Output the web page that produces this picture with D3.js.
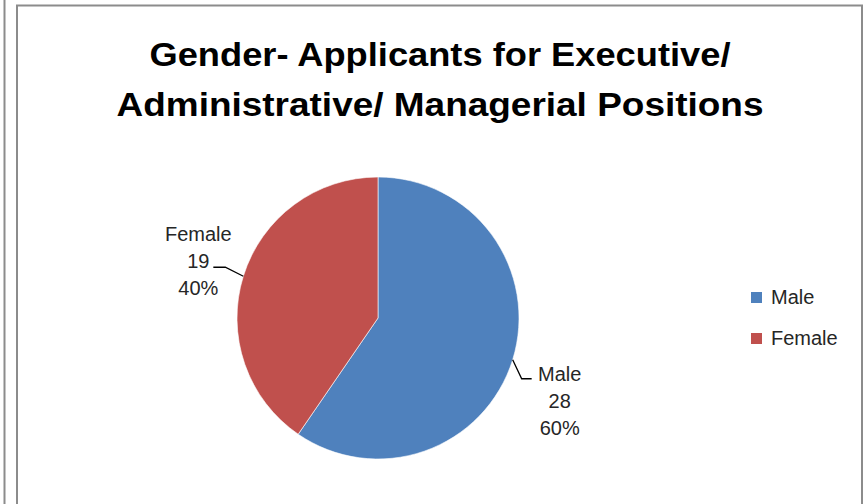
<!DOCTYPE html>
<html>
<head>
<meta charset="utf-8">
<script src="https://cdn.jsdelivr.net/npm/d3@7"></script>
<style>
    body { margin: 0; background: #ffffff; }
    text { font-family: "Liberation Sans", Arial, sans-serif; }
</style>
</head>
<body>
<div id="chart"></div>
<script>
// data
var categories = ["Male", "Female"];
var values = [28, 19];
var colors = ["#4F81BD", "#C0504D"];
var titleLines = ["Gender- Applicants for Executive/", "Administrative/ Managerial Positions"];

var width = 865;
var height = 504;

var svg = d3.select("#chart").append("svg")
    .attr("width", width)
    .attr("height", height)

// frame lines
svg.append("line")
    .attr("x1", 4.5).attr("y1", 0).attr("x2", 4.5).attr("y2", height)
    .attr("stroke", "#8c8c8c").attr("stroke-width", 2)
svg.append("path")
    .attr("d", "M17,504 L17,5.5 L862,5.5 L862,504")
    .attr("fill", "none")
    .attr("stroke", "#8c8c8c")
    .attr("stroke-width", 2)

// title
var titleWidths = [581, 647];
svg.selectAll(".title")
    .data(titleLines)
    .enter()
    .append("text")
    .attr("class", "title")
    .attr("x", 440)
    .attr("y", function (d, i) {
        return 66 + i * 50;
    })
    .attr("text-anchor", "middle")
    .attr("textLength", function (d, i) {
        return titleWidths[i];
    })
    .attr("lengthAdjust", "spacingAndGlyphs")
    .style("font-size", "34px")
    .style("font-weight", "bold")
    .attr("fill", "#000000")
    .text(function (d) { return d; })

// pie
var cx = 378, cy = 318, r = 141;
var total = d3.sum(values);
var data = categories.map(function (c, i) {
    return { name: c, value: values[i], color: colors[i] };
});

var pie = d3.pie()
    .sort(null)
    .value(function (d) { return d.value; });

var arc = d3.arc()
    .innerRadius(0)
    .outerRadius(r);

var g = svg.append("g")
    .attr("transform", "translate(" + cx + "," + cy + ")")

var arcs = pie(data);

g.selectAll("path.slice")
    .data(arcs)
    .enter()
    .append("path")
    .attr("class", "slice")
    .attr("d", arc)
    .attr("fill", function (d) { return d.data.color; })
    .attr("stroke", "#ffffff")
    .attr("stroke-width", 0.6)

// data labels with leader lines
var labelOffsets = {
    Male: { bend: [9, 19], end: [19, 19], text: [47, 21] },
    Female: { bend: [-18, -9], end: [-30, -9], text: [-45, -35] }
};

arcs.forEach(function (d) {
    var mid = (d.startAngle + d.endAngle) / 2;
    var ex = r * Math.sin(mid);
    var ey = -r * Math.cos(mid);
    var o = labelOffsets[d.data.name];

    g.append("polyline")
        .attr("points", [
            [ex, ey],
            [ex + o.bend[0], ey + o.bend[1]],
            [ex + o.end[0], ey + o.end[1]]
        ].join(" "))
        .attr("fill", "none")
        .attr("stroke", "#000000")
        .attr("stroke-width", 1.3)

    var pct = d3.format(".0%")(d.data.value / total);
    var lines = [d.data.name, d.data.value, pct];
    g.append("text")
        .attr("text-anchor", "middle")
        .attr("fill", "#262626")
        .style("font-size", "20px")
        .selectAll("tspan")
        .data(lines)
        .enter()
        .append("tspan")
        .attr("x", ex + o.text[0])
        .attr("y", function (l, i) {
            return ey + o.text[1] + i * 27;
        })
        .text(function (l) { return l; })
})

// legend
var legend = svg.append("g")
    .attr("transform", "translate(751,292)")

var item = legend.selectAll(".legend-item")
    .data(data)
    .enter()
    .append("g")
    .attr("class", "legend-item")
    .attr("transform", function (d, i) {
        return "translate(0," + (i * 41) + ")";
    })

item.append("rect")
    .attr("width", 11)
    .attr("height", 11)
    .attr("fill", function (d) { return d.color; })

item.append("text")
    .attr("x", 20)
    .attr("y", 12)
    .attr("fill", "#262626")
    .style("font-size", "20px")
    .text(function (d) { return d.name; })
</script>
</body>
</html>
